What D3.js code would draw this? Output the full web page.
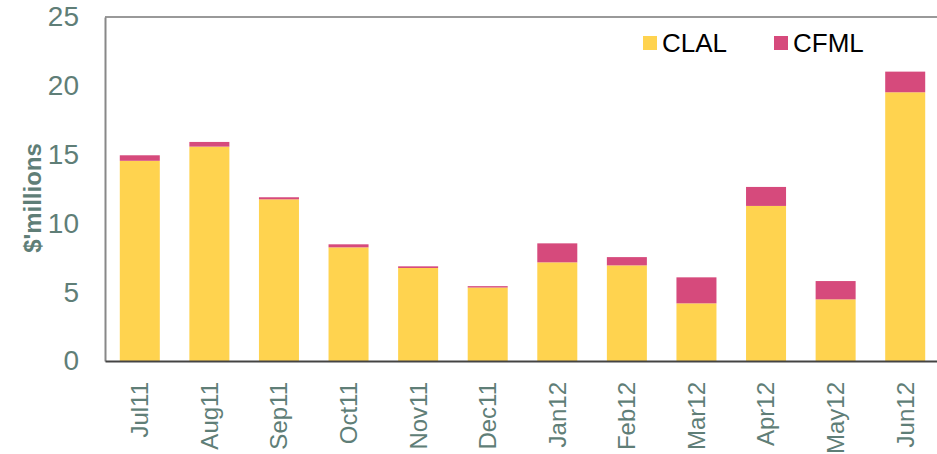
<!DOCTYPE html>
<html>
<head>
<meta charset="utf-8">
<script src="https://cdn.jsdelivr.net/npm/d3@7"></script>
<style>
    body { margin: 0; background: #fff; }
    svg { display: block; font-family: Arial, "Liberation Sans", sans-serif; }
</style>
</head>
<body>
<svg id="chart" width="937" height="454"></svg>
<script>
// values in $ millions
const months = ["Jul11", "Aug11", "Sep11", "Oct11", "Nov11", "Dec11",
                "Jan12", "Feb12", "Mar12", "Apr12", "May12", "Jun12"]
const clal = [14.55, 15.58, 11.75, 8.26, 6.76, 5.34, 7.17, 6.95, 4.19, 11.27, 4.48, 19.53]
const cfml = [0.40, 0.34, 0.15, 0.22, 0.12, 0.10, 1.38, 0.60, 1.89, 1.38, 1.33, 1.50]
const yTicks = [0, 5, 10, 15, 20, 25]
const seriesNames = ["CLAL", "CFML"]
const colors = ["#FFD34F", "#D64A7C"]

const svg = d3.select("#chart")
const margin = {left: 105, top: 17, right: -3, bottom: 93}
const width = 937 - margin.left - margin.right
const height = 454 - margin.top - margin.bottom
const textColor = "#5F7E77"

const rows = months.map((m, i) => ({month: m, CLAL: clal[i], CFML: cfml[i]}))
const stacked = d3.stack().keys(seriesNames)(rows)

const x = d3.scaleBand()
    .domain(months)
    .range([0, width])
    .paddingInner(0.425)
    .paddingOuter(0.2125)
const y = d3.scaleLinear()
    .domain([0, 25])
    .range([height, 0])

const g = svg.append("g")
    .attr("transform", "translate(" + margin.left + "," + margin.top + ")")

// bars
g.selectAll(".series")
    .data(stacked)
    .enter()
    .append("g")
    .attr("class", "series")
    .attr("fill", (d, i) => colors[i])
    .selectAll("rect")
    .data((d) => d)
    .enter()
    .append("rect")
    .attr("x", (d) => x(d.data.month))
    .attr("y", (d) => y(d[1]))
    .attr("width", x.bandwidth())
    .attr("height", (d) => y(d[0]) - y(d[1]))

// frame: top line, left axis, bottom axis
g.append("line")
    .attr("x1", 0).attr("x2", width + 10)
    .attr("y1", 0).attr("y2", 0)
    .style("stroke", "#999").style("stroke-width", "2px")

const yAxis = g.append("g")
    .call(d3.axisLeft(y).tickValues(yTicks).tickSize(0).tickPadding(26))
yAxis.select(".domain").style("stroke", "#888").style("stroke-width", "2px")
yAxis.selectAll("text")
    .style("font-size", "28px")
    .style("fill", textColor)
    .attr("font-family", null)

const xAxis = g.append("g")
    .attr("transform", "translate(0," + height + ")")
    .call(d3.axisBottom(x).tickSize(0))
xAxis.select(".domain").style("stroke", "#444").style("stroke-width", "2px")
xAxis.selectAll("text")
    .attr("font-family", null)
    .style("font-size", "24px")
    .style("fill", textColor)
    .style("text-anchor", "end")
    .attr("transform", "rotate(-90)")
    .attr("x", -21)
    .attr("y", 0)
    .attr("dy", "0.35em")

// y title
svg.append("text")
    .attr("transform", "translate(41,198) rotate(-90)")
    .style("text-anchor", "middle")
    .style("font-size", "24px")
    .style("font-weight", "bold")
    .style("fill", textColor)
    .text("$'millions")

// legend
const legendX = [643, 774]
const legend = svg.selectAll(".legend")
    .data(seriesNames)
    .enter()
    .append("g")
    .attr("class", "legend")
    .attr("transform", (d, i) => "translate(" + legendX[i] + ",36)")
legend.append("rect")
    .attr("width", 14)
    .attr("height", 14)
    .attr("fill", (d, i) => colors[i])
legend.append("text")
    .attr("x", 19)
    .attr("y", 16)
    .style("font-size", "26px")
    .style("fill", "#000")
    .text((d) => d)
</script>
</body>
</html>
